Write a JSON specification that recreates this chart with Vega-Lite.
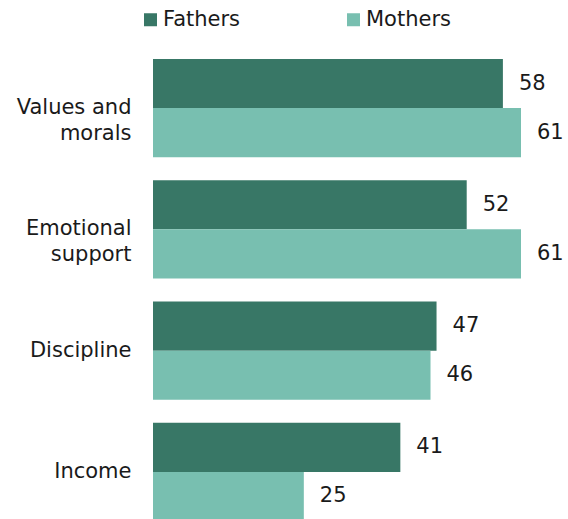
{
  "$schema": "https://vega.github.io/schema/vega-lite/v6.json",
  "autosize": {"type": "none"},
  "padding": {"left": 153, "top": 59, "right": 47, "bottom": 0},
  "width": 368,
  "height": 460,
  "data": {
    "values": [
      {"category": "Values and morals", "parent": "Fathers", "value": 58},
      {"category": "Values and morals", "parent": "Mothers", "value": 61},
      {"category": "Emotional support", "parent": "Fathers", "value": 52},
      {"category": "Emotional support", "parent": "Mothers", "value": 61},
      {"category": "Discipline", "parent": "Fathers", "value": 47},
      {"category": "Discipline", "parent": "Mothers", "value": 46},
      {"category": "Income", "parent": "Fathers", "value": 41},
      {"category": "Income", "parent": "Mothers", "value": 25}
    ]
  },
  "encoding": {
    "y": {
      "field": "category",
      "type": "nominal",
      "sort": ["Values and morals", "Emotional support", "Discipline", "Income"],
      "scale": {"range": [0, 462], "paddingInner": 0.19, "paddingOuter": 0},
      "axis": {
        "title": null,
        "domain": false,
        "ticks": false,
        "labelPadding": 22,
        "labelFontSize": 21,
        "labelFont": "DejaVu Sans",
        "labelColor": "#1a1a1a",
        "labelLineHeight": 26,
        "labelLimit": 0,
        "labelExpr": "lastindexof(datum.value, ' ') > 0 ? [substring(datum.value, 0, lastindexof(datum.value, ' ')), substring(datum.value, lastindexof(datum.value, ' ') + 1)] : datum.value"
      }
    },
    "yOffset": {
      "field": "parent",
      "type": "nominal",
      "sort": ["Fathers", "Mothers"],
      "scale": {"paddingInner": 0, "paddingOuter": 0}
    },
    "x": {
      "field": "value",
      "type": "quantitative",
      "scale": {"domain": [0, 61]},
      "axis": null
    }
  },
  "layer": [
    {
      "mark": {"type": "bar"},
      "encoding": {
        "color": {
          "field": "parent",
          "type": "nominal",
          "scale": {"domain": ["Fathers", "Mothers"], "range": ["#387766", "#78bfb0"]},
          "legend": {
            "title": null,
            "orient": "none",
            "legendX": -13,
            "legendY": -50,
            "direction": "horizontal",
            "symbolType": "square",
            "symbolSize": 169,
            "symbolStrokeWidth": 0,
            "labelFontSize": 21,
            "labelFont": "DejaVu Sans",
            "labelColor": "#1a1a1a",
            "labelOffset": 2,
            "columnPadding": 102,
            "padding": 0
          }
        }
      }
    },
    {
      "mark": {
        "type": "text",
        "align": "left",
        "baseline": "middle",
        "dx": 16,
        "fontSize": 21,
        "font": "DejaVu Sans",
        "color": "#1a1a1a"
      },
      "encoding": {
        "text": {"field": "value", "type": "quantitative"}
      }
    }
  ],
  "config": {"view": {"stroke": null}}
}
